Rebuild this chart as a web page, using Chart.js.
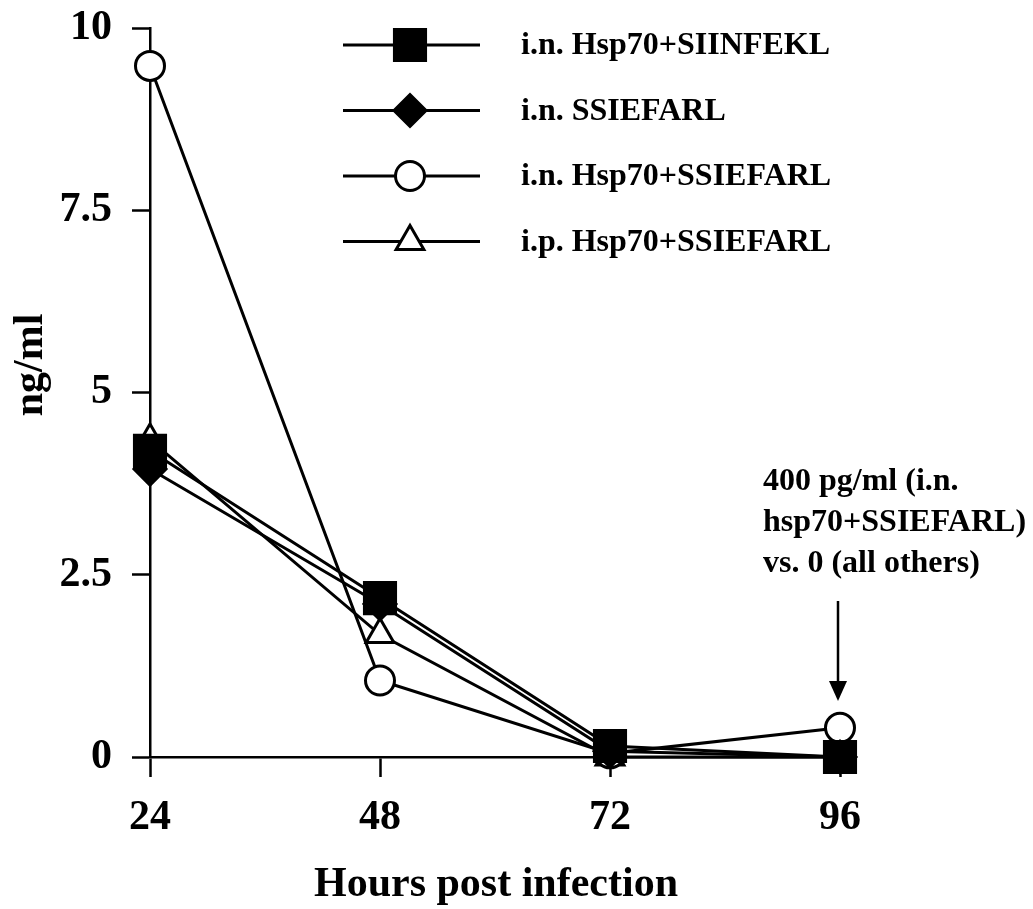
<!DOCTYPE html>
<html>
<head>
<meta charset="utf-8">
<script src="https://cdn.jsdelivr.net/npm/chart.js@4"></script>
<style>
  body { margin: 0; background: #fff; }
  canvas { display: block; }
</style>
</head>
<body>
<canvas id="grafico" width="1033" height="909"></canvas>
<script>
const horas = ['24', '48', '72', '96'];
const yTicks = [0, 2.5, 5, 7.5, 10];

const hsp70Siinfekl = [4.2, 2.18, 0.15, 0];
const ssiefarl = [3.95, 2.1, 0.08, 0];
const hsp70Ssiefarl = [9.48, 1.05, 0.05, 0.4];
const ipHsp70Ssiefarl = [4.35, 1.68, 0, 0];

const nomes = ['i.n. Hsp70+SIINFEKL', 'i.n. SSIEFARL', 'i.n. Hsp70+SSIEFARL', 'i.p. Hsp70+SSIEFARL'];
const notaLinhas = ['400 pg/ml (i.n.', 'hsp70+SSIEFARL)', 'vs. 0 (all others)'];
const tituloX = 'Hours post infection';
const tituloY = 'ng/ml';

const fonte = '"Liberation Serif", "Times New Roman", serif';

function serie(label, data, estilo, raio, cor) {
    return {
        label, data,
        borderColor: '#000',
        borderWidth: 3,
        pointStyle: estilo,
        pointRadius: raio,
        pointHoverRadius: raio,
        pointBackgroundColor: cor,
        pointBorderColor: '#000',
        pointBorderWidth: 3,
        backgroundColor: cor,
        fill: false,
        tension: 0,
        clip: false
    };
}

// legenda, nota com seta e titulos desenhados a mao
const extras = {
    id: 'extras',
    afterDraw(chart) {
        const ctx = chart.ctx;
        ctx.save();
        ctx.strokeStyle = '#000';
        ctx.fillStyle = '#000';

        chart.data.datasets.forEach((ds, i) => {
            const y = 45 + i * 65.5;
            ctx.lineWidth = 3;
            ctx.beginPath();
            ctx.moveTo(343, y);
            ctx.lineTo(480, y);
            ctx.stroke();
            ctx.fillStyle = ds.pointBackgroundColor;
            Chart.helpers.drawPoint(ctx, {
                pointStyle: ds.pointStyle,
                radius: ds.pointRadius,
                borderWidth: 3,
                rotation: 0
            }, 410, y);
            ctx.fillStyle = '#000';
            ctx.font = 'bold 32px ' + fonte;
            ctx.textAlign = 'left';
            ctx.textBaseline = 'middle';
            ctx.fillText(ds.label, 521, y + 1);
        });

        ctx.font = 'bold 32px ' + fonte;
        ctx.textAlign = 'left';
        ctx.textBaseline = 'alphabetic';
        notaLinhas.forEach((t, i) => {
            ctx.fillText(t, 763, 490 + i * 41);
        });

        // seta
        ctx.lineWidth = 2.5;
        ctx.beginPath();
        ctx.moveTo(838, 601);
        ctx.lineTo(838, 684);
        ctx.stroke();
        ctx.beginPath();
        ctx.moveTo(829, 681);
        ctx.lineTo(847, 681);
        ctx.lineTo(838, 701);
        ctx.closePath();
        ctx.fill();

        ctx.font = 'bold 42px ' + fonte;
        ctx.textAlign = 'center';
        ctx.textBaseline = 'middle';
        ctx.fillText(tituloX, 496, 885);

        ctx.translate(31, 365);
        ctx.rotate(-Math.PI / 2);
        ctx.fillText(tituloY, 0, 0);
        ctx.restore();
    }
};

const ctx = document.getElementById('grafico').getContext('2d');
const grafico = new Chart(ctx, {
    type: 'line',
    data: {
        labels: horas,
        datasets: [
            serie(nomes[0], hsp70Siinfekl, 'rect', 22, '#000'),
            serie(nomes[1], ssiefarl, 'rectRot', 16, '#000'),
            serie(nomes[2], hsp70Ssiefarl, 'circle', 14.5, '#fff'),
            serie(nomes[3], ipHsp70Ssiefarl, 'triangle', 16, '#fff')
        ]
    },
    options: {
        responsive: false,
        animation: false,
        devicePixelRatio: 1,
        layout: { padding: { top: 28, right: 193, left: 0, bottom: 0 } },
        plugins: {
            legend: { display: false },
            tooltip: { enabled: false }
        },
        scales: {
            x: {
                offset: false,
                grid: { drawOnChartArea: false, drawTicks: true, tickLength: 20, tickWidth: 2.5, tickColor: '#000' },
                border: { color: '#000', width: 2.5 },
                ticks: { color: '#000', padding: 16, maxRotation: 0, font: { family: fonte, size: 42, weight: 'bold' } },
                afterFit: s => { s.height = 152; s.paddingLeft = 0; s.paddingRight = 0; }
            },
            y: {
                min: 0,
                max: 10,
                afterBuildTicks: s => { s.ticks = yTicks.map(v => ({ value: v })); },
                grid: { drawOnChartArea: false, drawTicks: true, tickLength: 18, tickWidth: 2.5, tickColor: '#000' },
                border: { color: '#000', width: 2.5 },
                ticks: { color: '#000', padding: 20, font: { family: fonte, size: 42, weight: 'bold' } },
                afterFit: s => { s.width = 150; s.paddingTop = 0; s.paddingBottom = 0; }
            }
        }
    },
    plugins: [extras]
});
</script>
</body>
</html>
